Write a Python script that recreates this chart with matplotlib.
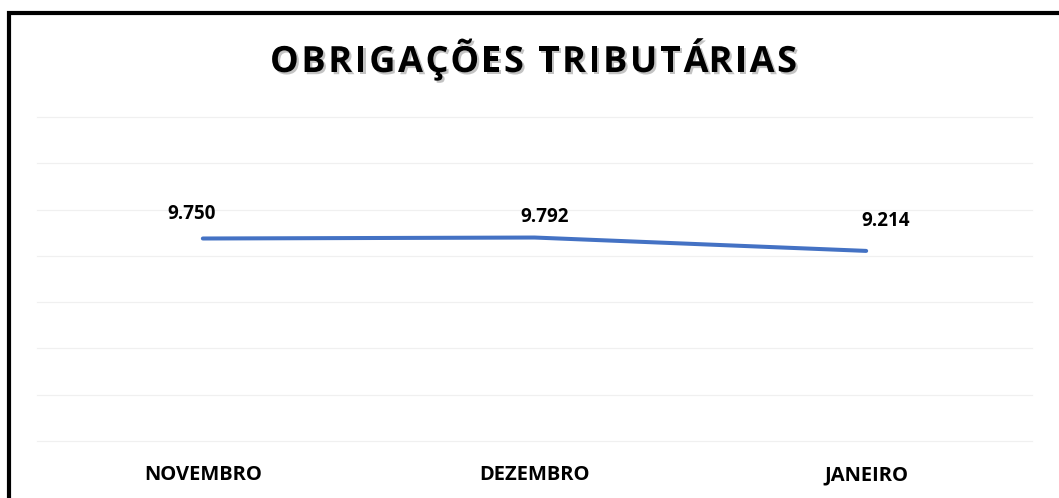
import numpy as np
import matplotlib.pyplot as plt
import matplotlib.patheffects as pe
from matplotlib.patches import Rectangle

# data
meses = ['NOVEMBRO', 'DEZEMBRO', 'JANEIRO']
valores = [9750, 9792, 9214]
rotulos = ['9.750', '9.792', '9.214']
titulo = 'OBRIGAÇÕES TRIBUTÁRIAS'

# label offsets in pixels (dx, dy up) - labels were hand placed in the original
offsets = [(-11, 25), (10, 21), (19, 30)]

W, H = 1059, 498
fig = plt.figure(figsize=(W / 100, H / 100), dpi=100)
fig.patch.set_facecolor('white')

# plot area: faint gridlines span x 37..1032, y 117..441 px
ax = fig.add_axes([37 / W, 1 - 441 / H, (1032 - 37) / W, (441 - 117) / H])
x = np.arange(len(meses))
ax.set_xlim(-0.5, len(meses) - 0.5)
ax.set_ylim(1000, 15000)
ax.set_yticks(np.arange(1000, 15001, 2000))
ax.yaxis.grid(True, color='#f0f0f0', linewidth=0.9)
for gl in ax.get_ygridlines():
    gl.set_clip_on(False)
ax.set_axisbelow(True)
ax.tick_params(left=False, bottom=False, labelleft=False, labelbottom=False)
for s in ax.spines.values():
    s.set_visible(False)

ax.plot(x, valores, color='#4472C4', linewidth=2.9, solid_capstyle='round',
        solid_joinstyle='round')

for xi, v, txt, (dx, dy) in zip(x, valores, rotulos, offsets):
    ax.annotate(txt, (xi, v), xytext=(dx * 0.72, dy * 0.72), textcoords='offset points',
                ha='center', va='center', fontsize=13.5, fontweight='bold',
                family='Open Sans', color='black')

# category labels
for xi, m in zip(x, meses):
    ax.text(xi, -(480 - 441) / (441 - 117), m, transform=ax.get_xaxis_transform(),
            ha='center', va='baseline', fontsize=14.5, fontweight='bold',
            family='Open Sans', color='black')

# title: letter-spaced, with soft shadow
tprops = dict(fontsize=26, fontweight='bold', family='Open Sans', color='black')
r = fig.canvas.get_renderer()


def text_w(s):
    t = fig.text(0, 0, s, **tprops)
    w = t.get_window_extent(r).width
    t.remove()
    return w


w_i = text_w('I')
starts = [0.0] + [text_w(titulo[:i] + 'I') - w_i for i in range(1, len(titulo))]
full_w = text_w(titulo)
target_w = 527
sp = (target_w - full_w) / (len(titulo) - 1)
x0 = 533.5 - target_w / 2
shadow = [pe.withSimplePatchShadow(offset=(1.6, -1.6), shadow_rgbFace='#888888', alpha=0.5)]
for i, ch in enumerate(titulo):
    if ch == ' ':
        continue
    fig.text((x0 + starts[i] + i * sp) / W, 1 - 72 / H, ch, ha='left', va='baseline',
             path_effects=shadow, **tprops)

# black frame, cut off on the right and bottom
fig.add_artist(Rectangle((8.5 / W, -0.2), 1.5, 1.2 - 12.5 / H, fill=False,
                         edgecolor='black', linewidth=3, transform=fig.transFigure))

fig.savefig('out.png', dpi=100)
